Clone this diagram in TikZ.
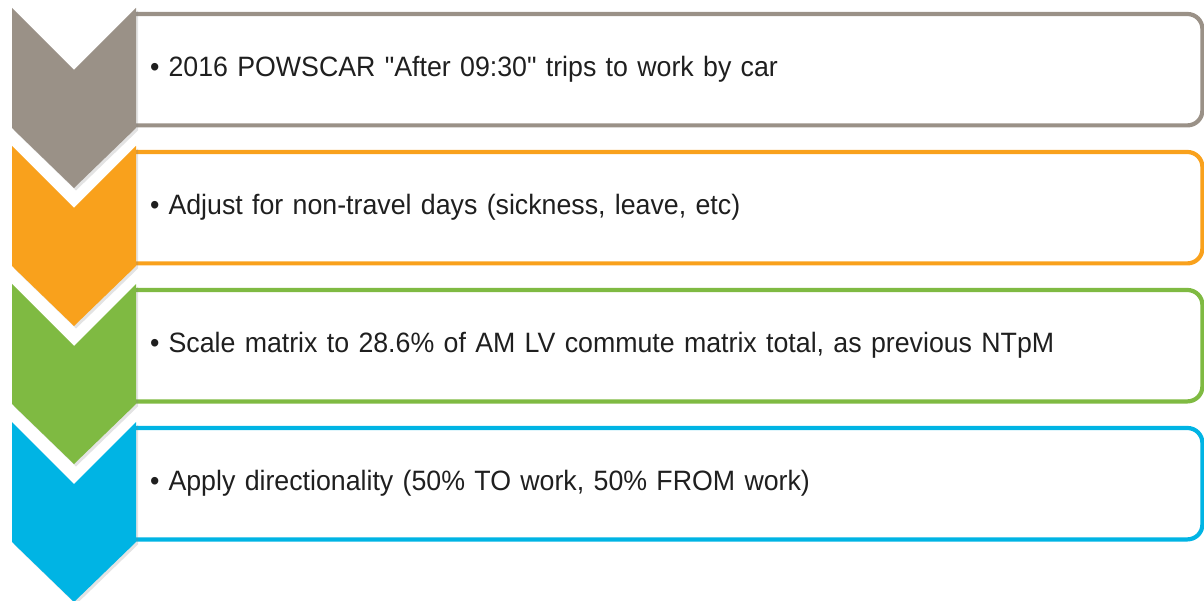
\documentclass[tikz,border=0pt]{standalone}
\usepackage{fontspec}
\setmainfont{Liberation Sans}
\newfontfamily\stepfont{Liberation Sans}[FakeStretch=0.955]
\usepackage{tikz}
\usetikzlibrary{
  calc,
  positioning,
  shadows
}
\definecolor{grayStroke}{RGB}{154,145,135}
\definecolor{orangeStroke}{RGB}{249,161,28}
\definecolor{greenStroke}{RGB}{127,186,66}
\definecolor{blueStroke}{RGB}{0,180,228}
\colorlet{ink}{black!88}
\tikzset{
  chevron/.style={
    fill=#1,
    draw=none,
    drop shadow={opacity=0.22, shadow xshift=2pt, shadow yshift=-2.5pt}
  },
  stepbox/.style={
    draw=none,
    anchor=north west,
    minimum width=1066pt,
    minimum height=111pt,
    text width=1038pt,
    inner xsep=14pt,
    inner ysep=0pt,
    align=left,
    text=ink,
    font=\stepfont\fontsize{28}{34}\selectfont
  },
  stepline/.style={draw=#1, line width=4.2pt, rounded corners=15pt}
}

\begin{document}
\begin{tikzpicture}[x=1pt,y=-1pt]
  \useasboundingbox (0,0) rectangle (1204,601);

  \foreach \i/\col/\txt in {
    1/grayStroke/{2016 POWSCAR "After 09:30" trips to work by car},
    2/orangeStroke/{Adjust for non-travel days (sickness, leave, etc)},
    3/greenStroke/{Scale matrix to 28.6\% of AM LV commute matrix total, as previous NTpM},
    4/blueStroke/{Apply directionality (50\% TO work, 50\% FROM work)}}{
    \pgfmathsetmacro{\ytop}{8+138*(\i-1)}
    % text box, outlined on the right side only
    \node[stepbox] (step\i) at (136,\ytop+6) {\textbullet\hspace{9pt}\txt};
    \draw[stepline=\col] (step\i.north west) -- (step\i.north east)
      -- (step\i.south east) -- (step\i.south west);
    % chevron on the left
    \path[chevron=\col] (12,\ytop) -- (74,\ytop+62) -- (136,\ytop)
      -- (136,\ytop+120) -- (74,\ytop+180) -- (12,\ytop+120) -- cycle;
  }
\end{tikzpicture}
\end{document}
